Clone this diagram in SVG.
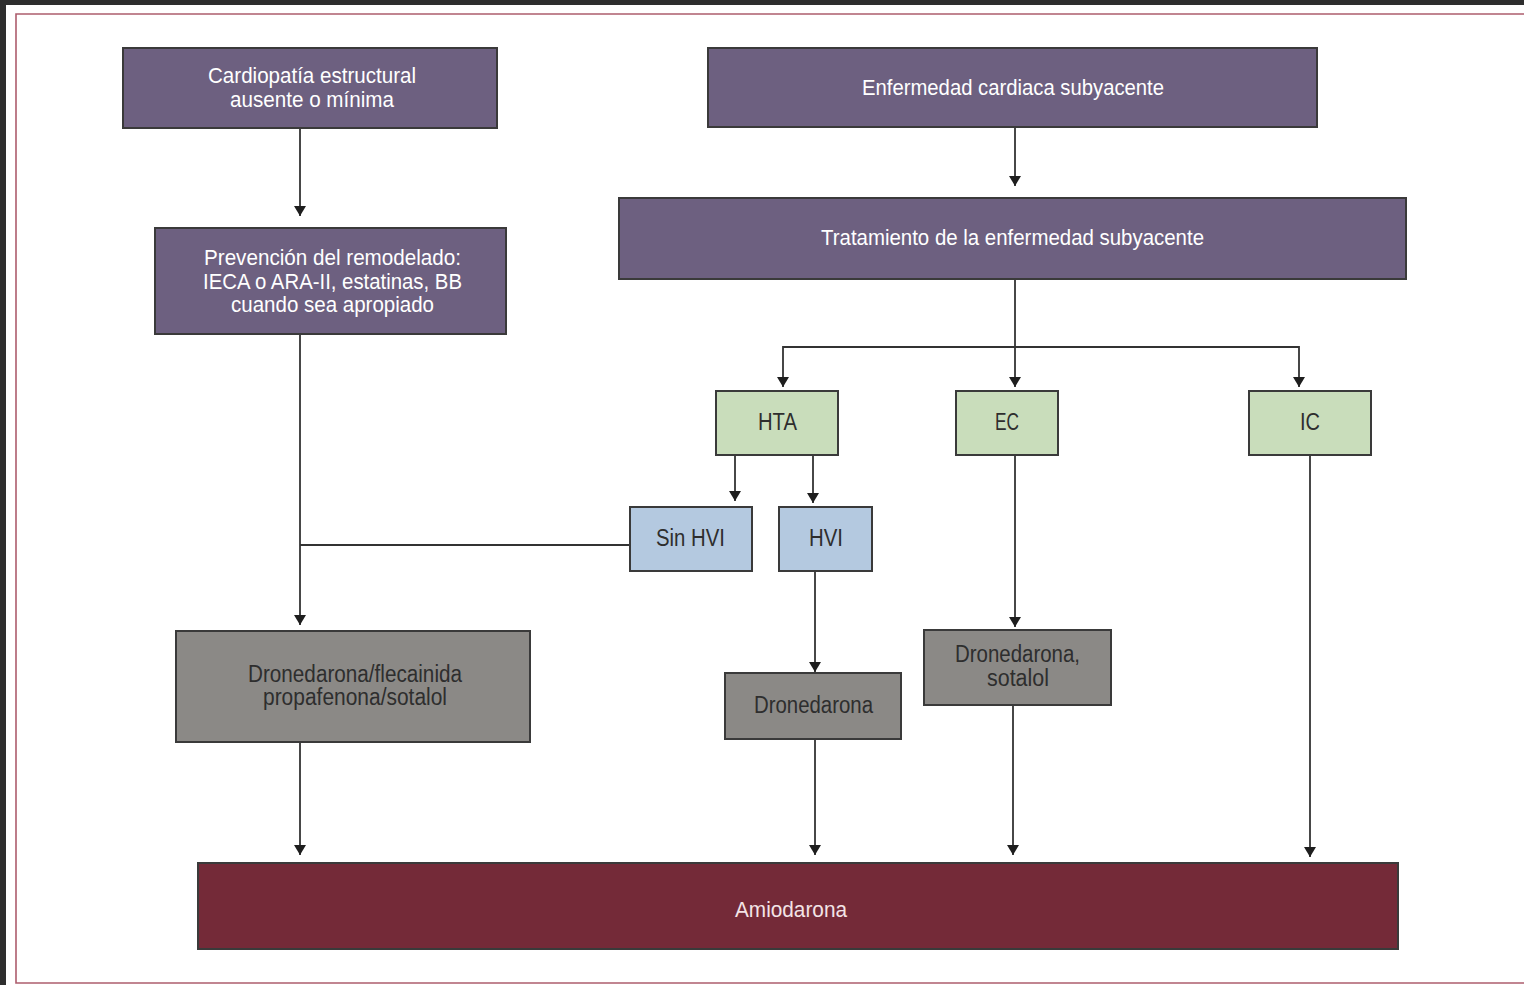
<svg xmlns="http://www.w3.org/2000/svg" width="1524" height="985" viewBox="0 0 1524 985">
  <defs>
    <style>
      .box { stroke: #3a3a3a; stroke-width: 2; }
      .purple { fill: #6d6080; }
      .green { fill: #c9ddbb; }
      .blue { fill: #b4c9e0; }
      .gray { fill: #8b8986; }
      .maroon { fill: #742a38; }
      .lt { font-family: "Liberation Sans", Arial, sans-serif; font-size: 22px; fill: #ffffff; }
      .dk { font-family: "Liberation Sans", Arial, sans-serif; font-size: 23px; fill: #2e2e2e; }
      .am { font-family: "Liberation Sans", Arial, sans-serif; font-size: 22px; fill: #f3e4e6; }
      .wire { fill: none; stroke: #333333; stroke-width: 1.8; }
      .arr { marker-end: url(#tip); }
    </style>
    <marker id="tip" viewBox="0 0 10 12" refX="10" refY="6" markerWidth="11" markerHeight="12" markerUnits="userSpaceOnUse" orient="auto">
      <path d="M0,0 L10,6 L0,12 Z" fill="#1e1e1e"/>
    </marker>
  </defs>

  <!-- page frame -->
  <rect x="0" y="0" width="1524" height="985" fill="#ffffff"/>
  <rect x="0" y="0" width="1524" height="5" fill="#2e2e2e"/>
  <rect x="0" y="0" width="6" height="985" fill="#2e2e2e"/>
  <path d="M1530,14 H16 V983 H1530" fill="none" stroke="#ad5d6d" stroke-width="1.6"/>

  <!-- connectors -->
  <g id="connectors">
    <path class="wire arr" d="M300,128 V216"/>
    <path class="wire arr" d="M1015,127 V186"/>
    <path class="wire arr" d="M1015,279 V387"/>
    <path class="wire arr" d="M1015,347 H783 V387"/>
    <path class="wire arr" d="M1015,347 H1299 V387"/>
    <path class="wire arr" d="M735,455 V501"/>
    <path class="wire arr" d="M813,455 V503"/>
    <path class="wire arr" d="M300,334 V625"/>
    <path class="wire" d="M300,545 H630"/>
    <path class="wire arr" d="M815,571 V672"/>
    <path class="wire arr" d="M1015,455 V627"/>
    <path class="wire arr" d="M300,742 V855"/>
    <path class="wire arr" d="M815,739 V855"/>
    <path class="wire arr" d="M1013,705 V855"/>
    <path class="wire arr" d="M1310,455 V857"/>
  </g>

  <g id="cardiopatia">
    <rect class="box purple" x="123" y="48" width="374" height="80"/>
    <text class="lt" x="208" y="83" textLength="208" lengthAdjust="spacingAndGlyphs">Cardiopatía estructural</text>
    <text class="lt" x="230" y="107" textLength="164" lengthAdjust="spacingAndGlyphs">ausente o mínima</text>
  </g>

  <g id="enfermedad">
    <rect class="box purple" x="708" y="48" width="609" height="79"/>
    <text class="lt" x="862" y="95" textLength="302" lengthAdjust="spacingAndGlyphs">Enfermedad cardiaca subyacente</text>
  </g>

  <g id="prevencion">
    <rect class="box purple" x="155" y="228" width="351" height="106"/>
    <text class="lt" x="204" y="265" textLength="257" lengthAdjust="spacingAndGlyphs">Prevención del remodelado:</text>
    <text class="lt" x="203" y="289" textLength="259" lengthAdjust="spacingAndGlyphs">IECA o ARA-II, estatinas, BB</text>
    <text class="lt" x="231" y="312" textLength="203" lengthAdjust="spacingAndGlyphs">cuando sea apropiado</text>
  </g>

  <g id="tratamiento">
    <rect class="box purple" x="619" y="198" width="787" height="81"/>
    <text class="lt" x="821" y="245" textLength="383" lengthAdjust="spacingAndGlyphs">Tratamiento de la enfermedad subyacente</text>
  </g>

  <g id="hta">
    <rect class="box green" x="716" y="391" width="122" height="64"/>
    <text class="dk" x="758" y="430" textLength="39" lengthAdjust="spacingAndGlyphs">HTA</text>
  </g>

  <g id="ec">
    <rect class="box green" x="956" y="391" width="102" height="64"/>
    <text class="dk" x="995" y="430" textLength="24" lengthAdjust="spacingAndGlyphs">EC</text>
  </g>

  <g id="ic">
    <rect class="box green" x="1249" y="391" width="122" height="64"/>
    <text class="dk" x="1300" y="430" textLength="20" lengthAdjust="spacingAndGlyphs">IC</text>
  </g>

  <g id="sin-hvi">
    <rect class="box blue" x="630" y="507" width="122" height="64"/>
    <text class="dk" x="656" y="546" textLength="69" lengthAdjust="spacingAndGlyphs">Sin HVI</text>
  </g>

  <g id="hvi">
    <rect class="box blue" x="779" y="507" width="93" height="64"/>
    <text class="dk" x="809" y="546" textLength="34" lengthAdjust="spacingAndGlyphs">HVI</text>
  </g>

  <g id="antiarritmicos">
    <rect class="box gray" x="176" y="631" width="354" height="111"/>
    <text class="dk" x="248" y="682" textLength="214" lengthAdjust="spacingAndGlyphs">Dronedarona/flecainida</text>
    <text class="dk" x="263" y="705" textLength="184" lengthAdjust="spacingAndGlyphs">propafenona/sotalol</text>
  </g>

  <g id="dronedarona">
    <rect class="box gray" x="725" y="673" width="176" height="66"/>
    <text class="dk" x="754" y="713" textLength="119" lengthAdjust="spacingAndGlyphs">Dronedarona</text>
  </g>

  <g id="dronedarona-sotalol">
    <rect class="box gray" x="924" y="630" width="187" height="75"/>
    <text class="dk" x="955" y="662" textLength="125" lengthAdjust="spacingAndGlyphs">Dronedarona,</text>
    <text class="dk" x="987" y="686" textLength="62" lengthAdjust="spacingAndGlyphs">sotalol</text>
  </g>

  <g id="amiodarona">
    <rect class="box maroon" x="198" y="863" width="1200" height="86"/>
    <text class="am" x="735" y="917" textLength="112" lengthAdjust="spacingAndGlyphs">Amiodarona</text>
  </g>
</svg>
